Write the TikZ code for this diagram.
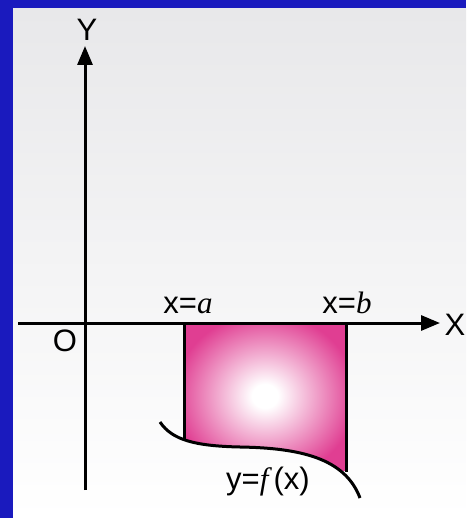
\documentclass[tikz,border=0pt]{standalone}
\usepackage{fontspec}
\setmainfont{Liberation Sans}
\newfontfamily\itserif{Liberation Serif}
\usetikzlibrary{arrows.meta}
\definecolor{frameblue}{RGB}{26,26,190}
\definecolor{paper}{RGB}{232,232,234}
\definecolor{areapink}{RGB}{224,62,146}
\pgfdeclareradialshading{areaglow}{\pgfpoint{0bp}{0bp}}{%
  color(0bp)=(white); color(4bp)=(white); color(28bp)=(areapink);
  color(50bp)=(areapink)}

\begin{document}
\begin{tikzpicture}[x=1pt, y=-1pt, font=\fontsize{31}{34}\selectfont,
  axis/.style={line width=3pt, >={Triangle[length=19pt, width=15pt]}},
  edge/.style={line width=3pt},
  lbl/.style={inner sep=0pt}]
\useasboundingbox (0,0) rectangle (466,518);
% frame and paper
\fill[frameblue] (0,0) rectangle (466,518);
\shade[top color=paper, bottom color=white] (13,9) rectangle (466,518);
% shaded area
\begin{scope}
  \clip (160,422) .. controls (172,440) and (195,446) .. (240,447)
    .. controls (300,448) and (345,458) .. (360,498)
    -- (360,322) -- (160,322) -- cycle;
  \shade[shading=areaglow] (184,322) rectangle (346,470);
\end{scope}
% axes
\coordinate (o) at (85,323);
\coordinate (xs) at (18,323);
\coordinate (xe) at (440,323);
\coordinate (ys) at (85,490);
\coordinate (ye) at (85,46);
\draw[axis,->] (xs) -- (xe);
\draw[axis,->] (ys) -- (ye);
% curve and ordinates
\coordinate (ca) at (184,440);
\coordinate (cb) at (346,472);
\coordinate (xa) at (184,323);
\coordinate (xb) at (346,323);
\draw[edge] (160,422) .. controls (172,440) and (195,446) .. (240,447)
  .. controls (300,448) and (345,458) .. (360,498);
\draw[edge] (xa) -- (ca);
\draw[edge] (xb) -- (cb);
% labels
\node[lbl] (ylbl) at (87,30) {Y};
\node[lbl] (xlbl) at (455,325) {X};
\node[lbl] (olbl) at (65,341) {O};
\node[lbl, anchor=base] (albl) at (188,313) {x=\itserif\itshape a};
\node[lbl, anchor=base] (blbl) at (347,313) {x=\itserif\itshape b};
\node[lbl, anchor=base] (flbl) at (268,489) {y={\itserif\itshape f\,}(x)};
\end{tikzpicture}
\end{document}
